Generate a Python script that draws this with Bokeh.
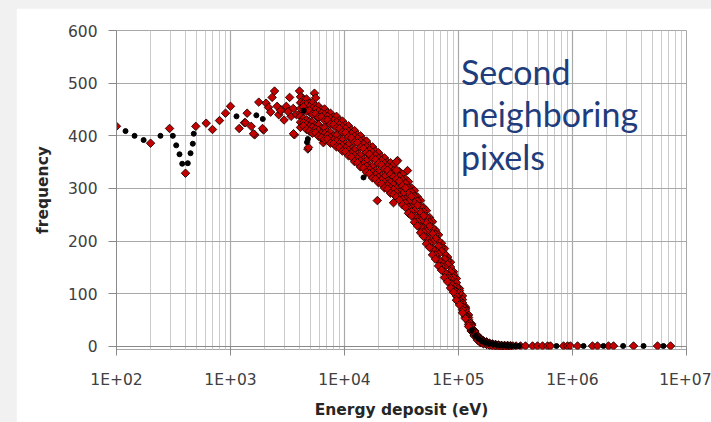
from bokeh.plotting import figure
from bokeh.models import Range1d, FixedTicker, Label
from bokeh.layouts import column
from bokeh.embed import file_html
from bokeh.resources import INLINE

# ---- axis ticks -------------------------------------------------------
decade_ticks = [1e2, 1e3, 1e4, 1e5, 1e6, 1e7]
decade_labels = ["1E+02", "1E+03", "1E+04", "1E+05", "1E+06", "1E+07"]
freq_ticks = [0, 100, 200, 300, 400, 500, 600]

# ---- red series: sparse low-energy points ------------------------------
red_low_energy = [100, 199, 292, 403, 496, 612, 695, 801, 904, 1000,
                  1192, 1327, 1400, 1520, 1633, 1770, 1950, 2053, 2155, 2318,
                  2434, 2565, 2800, 3088, 3300, 3400, 3640, 4030, 4240, 4770,
                  5450, 5580, 5330, 6580,
                  2250, 2650, 2950, 3200, 3550, 3800, 4400, 4550, 5000, 5200,
                  5800, 6100, 6400, 2750, 4130, 4740, 5810, 7050, 1350, 1590,
                  1910, 3570, 4830, 6400, 6530,
                  19400, 26900, 29200, 35700]
red_low_freq = [418, 386, 414, 329, 418, 424, 412, 429, 443, 456,
                414, 425, 443, 418, 402, 464, 411, 462, 454, 473,
                485, 456, 449, 456, 473, 437, 402, 485, 473, 375,
                481, 472, 416, 391,
                445, 440, 430, 446, 452, 440, 458, 430, 444, 425,
                452, 412, 441, 448, 442, 429, 435, 429, 425, 404,
                414, 404, 378, 397, 387,
                277, 273, 353, 334]

# ---- red series: dense band, six readings per energy bin ----------------
band_energy = [4111, 4365, 4645, 4932, 5236, 5572, 5916, 6281, 6683, 7096,
               7534, 8017, 8511, 9036, 9594, 10210, 10840, 11510, 12250, 13000,
               13800, 14690, 15600, 16560, 17620, 18710, 19860, 21130, 22440, 23830,
               25350, 26920, 28580, 30340, 32280, 34280, 36400, 38730, 41110, 43650,
               46450, 49320, 52360, 55720, 59160, 62810, 66830, 70960, 75340, 80170,
               85110, 90360, 95940, 102100, 108400, 115100, 122500, 130000, 138000, 146900,
               156000, 165600, 176200, 187100, 198600, 211300, 224400, 238300, 253500, 269200,
               285800]
band_freq_a = [474, 468, 470, 462, 463, 457, 456, 450, 451, 444,
               443, 436, 437, 429, 428, 421, 419, 411, 410, 402,
               400, 392, 390, 381, 379, 371, 368, 360, 358, 350,
               349, 345, 351, 332, 327, 318, 313, 301, 296, 284,
               277, 264, 258, 245, 237, 221, 212, 196, 186, 170,
               160, 142, 129, 110, 96, 75, 60, 43, 30, 21,
               15, 11, 9, 6, 5, 4, 3, 2, 2, 2,
               1]
band_freq_e = [463, 461, 459, 455, 452, 450, 446, 443, 440, 437,
               432, 429, 426, 421, 417, 414, 408, 404, 399, 395,
               389, 384, 379, 373, 368, 363, 357, 353, 347, 342,
               338, 334, 335, 323, 316, 310, 301, 293, 285, 276,
               266, 256, 246, 236, 225, 213, 201, 188, 176, 163,
               151, 137, 121, 106, 89, 72, 55, 41, 29, 20,
               14, 10, 8, 6, 4, 3, 2, 2, 1, 1,
               1]
band_freq_b = [452, 455, 447, 448, 441, 442, 435, 436, 429, 430,
               422, 421, 415, 414, 407, 406, 398, 396, 388, 387,
               378, 376, 368, 365, 357, 355, 347, 345, 337, 335,
               327, 322, 318, 314, 305, 301, 290, 285, 273, 268,
               255, 248, 235, 228, 214, 205, 190, 181, 166, 156,
               142, 131, 113, 102, 83, 69, 51, 40, 28, 19,
               13, 9, 7, 5, 4, 3, 2, 1, 1, 1,
               1]
band_freq_c = [437, 433, 430, 427, 426, 420, 421, 414, 415, 408,
               407, 400, 401, 393, 392, 385, 383, 375, 373, 365,
               363, 355, 353, 344, 342, 334, 332, 324, 322, 314,
               312, 307, 300, 293, 290, 280, 275, 264, 258, 245,
               238, 225, 218, 205, 197, 182, 175, 160, 151, 137,
               129, 114, 104, 87, 76, 58, 47, 32, 22, 16,
               9, 7, 5, 4, 3, 2, 2, 1, 1, 1,
               0]
band_freq_f = [426, 425, 421, 418, 416, 413, 410, 405, 404, 401,
               396, 392, 390, 385, 381, 377, 372, 367, 362, 357,
               352, 347, 342, 336, 331, 326, 321, 316, 311, 306,
               301, 298, 292, 285, 279, 272, 264, 256, 247, 237,
               227, 217, 206, 196, 185, 174, 164, 152, 141, 130,
               120, 108, 96, 83, 70, 55, 42, 30, 21, 14,
               8, 6, 4, 3, 2, 1, 1, 1, 0, 0,
               0]
band_freq_d = [416, 419, 412, 409, 405, 406, 399, 397, 393, 394,
               386, 385, 379, 378, 371, 370, 362, 360, 351, 349,
               341, 339, 331, 328, 320, 318, 311, 309, 301, 299,
               291, 289, 284, 278, 269, 264, 253, 248, 236, 229,
               216, 209, 195, 188, 174, 166, 153, 145, 131, 123,
               111, 103, 88, 79, 64, 53, 38, 29, 20, 12,
               7, 5, 4, 2, 1, 1, 1, 0, 0, 0,
               0]

# ---- red series: high-energy tail --------------------------------------
red_tail_energy = [300000, 320000, 350000, 387000, 446000, 493000, 546000, 604000,
                   641000, 834000, 904000, 959000, 1107000, 1497000, 1656000,
                   2070000, 2290000, 3430000, 5570000, 7250000]
red_tail_freq = [1, 1, 1, 1, 1, 1, 1, 1, 1, 1, 1, 1, 1, 1, 1, 1, 1, 1, 1, 1]

# ---- black series ------------------------------------------------------
black_energy = [120, 144, 173, 243, 312, 334, 357, 377, 422, 446,
                467, 476, 1129, 1686, 1920, 4380, 4690, 4770, 14690,
                130000, 140000, 150000, 160000, 172000, 185000, 200000, 215000,
                232000, 250000, 270000, 292000, 315000, 340000,
                724000, 1250000, 1870000, 2780000, 4200000, 6280000]
black_freq = [409, 400, 392, 400, 400, 382, 365, 347, 348, 367,
              385, 404, 437, 439, 432, 448, 388, 394, 321,
              30, 20, 14, 10, 7, 5, 4, 3,
              2, 2, 1, 1, 1, 1,
              1, 1, 1, 1, 1, 1]

GRID_MAJOR = "#a8a8a8"
GRID_MINOR = "#cacaca"
AXIS_COL = "#8a8a8a"
TICK_FONT = "DejaVu Sans"

# the frame reaches a little below zero so markers sitting on zero stay whole
p = figure(width=695, height=414, x_axis_type="log",
           x_range=Range1d(1e2, 1e7), y_range=Range1d(-5.7, 600),
           output_backend="svg", toolbar_location=None,
           min_border_left=100, min_border_right=25,
           min_border_top=22, min_border_bottom=73)
p.margin = (8, 0, 0, 16)
p.background_fill_color = "white"
p.border_fill_color = "white"
p.outline_line_color = GRID_MAJOR

minor = [k * 10 ** n for n in range(2, 7) for k in range(2, 10)]
xticker = FixedTicker(ticks=decade_ticks, minor_ticks=minor)
yticker = FixedTicker(ticks=freq_ticks)
p.xaxis.ticker = xticker
p.xgrid.ticker = xticker
p.yaxis.ticker = yticker
p.ygrid.ticker = yticker

p.xgrid.grid_line_color = GRID_MAJOR
p.xgrid.grid_line_width = 1.2
p.xgrid.minor_grid_line_color = GRID_MINOR
p.xgrid.minor_grid_line_width = 1
p.ygrid.grid_line_color = GRID_MAJOR
p.ygrid.grid_line_width = 1.2

p.xaxis.major_label_overrides = {int(t): lab for t, lab in zip(decade_ticks, decade_labels)}

for ax in (p.xaxis, p.yaxis):
    ax.axis_line_color = AXIS_COL
    ax.major_tick_line_color = AXIS_COL
    ax.minor_tick_line_color = None
    ax.major_label_standoff = 11
    ax.major_label_text_font = TICK_FONT
    ax.major_label_text_font_size = "15.5px"
    ax.major_label_text_color = "#404040"
    ax.axis_label_text_font = TICK_FONT
    ax.axis_label_text_font_size = "15.5px"
    ax.axis_label_text_font_style = "bold"
    ax.axis_label_text_color = "#262626"

# the zero line plays the part of the horizontal axis line
p.xaxis.axis_line_color = None
p.xaxis.major_tick_in = 3
p.xaxis.major_tick_out = 6
p.xaxis.major_label_standoff = 15
p.yaxis.major_tick_in = 0
p.yaxis.major_tick_out = 8

p.xaxis.axis_label = "Energy deposit (eV)"
p.xaxis.axis_label_standoff = 9
p.yaxis.axis_label = "frequency"
p.yaxis.axis_label_standoff = 13

p.segment(x0=[1e2], y0=[0], x1=[1e7], y1=[0], line_color=AXIS_COL, line_width=1.2)

red_style = dict(marker="square", angle=0.785398, size=6,
                 fill_color="#c40000", line_color="#1e0000", line_width=0.9)

p.scatter(red_low_energy, red_low_freq, **red_style)
for col in (band_freq_a, band_freq_e, band_freq_b, band_freq_c, band_freq_f, band_freq_d):
    p.scatter(band_energy, col, **red_style)
p.scatter(red_tail_energy, red_tail_freq, **red_style)
p.scatter(black_energy, black_freq, marker="circle", size=5,
          fill_color="black", line_color="black")

for word, yv in (("Second", 523), ("neighboring", 442), ("pixels", 360)):
    p.add_layout(Label(x=1.05e5, y=yv, text=word, text_font="Lato",
                       text_font_size="34px", text_color="#1f3d7c",
                       text_baseline="alphabetic"))

page = column(p, width=711, height=422, styles={"background-color": "#f1f1f1"})

open("out.html", "w").write(file_html(page, INLINE))
